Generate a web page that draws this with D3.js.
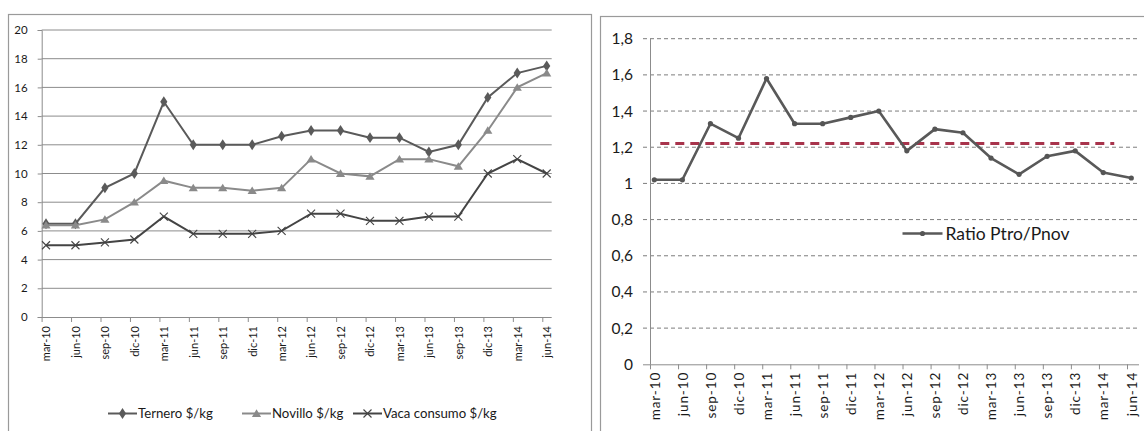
<!DOCTYPE html>
<html>
<head>
<meta charset="utf-8">
<script src="https://cdn.jsdelivr.net/npm/d3@7"></script>
<style>
  html, body { margin: 0; padding: 0; background: #fff; }
  svg { display: block; font-family: Lato, "Open Sans", sans-serif; }
</style>
</head>
<body>
<svg id="chart" width="1144" height="431"></svg>
<script>
// Quarterly periods, March 2010 to June 2014
const periods = ["mar-10","jun-10","sep-10","dic-10","mar-11","jun-11","sep-11","dic-11",
  "mar-12","jun-12","sep-12","dic-12","mar-13","jun-13","sep-13","dic-13","mar-14","jun-14"];

// Prices in $/kg
const ternero = [6.5, 6.5, 9, 10, 15, 12, 12, 12, 12.6, 13, 13, 12.5, 12.5, 11.5, 12, 15.3, 17, 17.5];
const novillo = [6.4, 6.4, 6.8, 8, 9.5, 9, 9, 8.8, 9, 11, 10, 9.8, 11, 11, 10.5, 13, 16, 17];
const vacaConsumo = [5, 5, 5.2, 5.4, 7, 5.8, 5.8, 5.8, 6, 7.2, 7.2, 6.7, 6.7, 7, 7, 10, 11, 10];

// Ratio ternero / novillo and its average level
const ratio = [1.02, 1.02, 1.33, 1.25, 1.58, 1.33, 1.33, 1.365, 1.40, 1.18, 1.30, 1.28, 1.14, 1.05, 1.15, 1.18, 1.06, 1.03];
const ratioAverage = 1.22;

// Axis ticks
const priceTicks = [0, 2, 4, 6, 8, 10, 12, 14, 16, 18, 20];
const ratioTicks = [0, 0.2, 0.4, 0.6, 0.8, 1, 1.2, 1.4, 1.6, 1.8];
const ratioTickLabels = ["0", "0,2", "0,4", "0,6", "0,8", "1", "1,2", "1,4", "1,6", "1,8"];

const svg = d3.select("#chart");

// ---------- Panel frames ----------
svg.append("rect").attr("x", 8.5).attr("y", 14.5).attr("width", 583).attr("height", 440)
  .attr("fill", "#fff").attr("stroke", "#9a9a9a").attr("stroke-width", 1.2);
svg.append("rect").attr("x", 600.5).attr("y", 16.5).attr("width", 560).attr("height", 440)
  .attr("fill", "#fff").attr("stroke", "#9a9a9a").attr("stroke-width", 1.2);

// ---------- Left chart: prices ----------
{
  const axisX = 41.7, plotRight = 551.7;
  const x = d3.scalePoint().domain(periods).range([46, 546.7]);
  const y = d3.scaleLinear().domain([0, 20]).range([317, 30]);
  const g = svg.append("g");
  const tickShift = -4.4;

  // horizontal gridlines
  g.append("g").selectAll("line").data(priceTicks.filter(d => d > 0)).join("line")
    .attr("x1", axisX).attr("x2", plotRight)
    .attr("y1", d => y(d)).attr("y2", d => y(d))
    .attr("stroke", "#8c8c8c").attr("stroke-width", 1);

  // y axis
  const ya = g.append("g").attr("transform", `translate(${axisX},0)`)
    .call(d3.axisLeft(y).tickValues(priceTicks).tickSize(4).tickPadding(10).tickFormat(d3.format("d")));
  ya.attr("font-size", null).attr("font-family", null);
  ya.select(".domain").attr("stroke", "#8c8c8c");
  ya.selectAll(".tick line").attr("stroke", "#8c8c8c");
  ya.selectAll("text").style("font-size", "11.5px").attr("fill", "#1a1a1a");

  // x axis
  const xa = g.append("g").attr("transform", `translate(0,${y(0)})`)
    .call(d3.axisBottom(x).tickSize(5).tickSizeOuter(0));
  xa.attr("font-size", null).attr("font-family", null);
  xa.select(".domain").attr("d", `M${axisX},0.5H${plotRight}`).attr("stroke", "#8c8c8c");
  xa.selectAll(".tick line").attr("x1", tickShift).attr("x2", tickShift).attr("stroke", "#8c8c8c");
  xa.selectAll("text")
    .attr("transform", "rotate(-90)")
    .attr("text-anchor", "end")
    .attr("x", -9).attr("y", 0).attr("dy", "0.35em")
    .style("font-size", "11px").attr("fill", "#1a1a1a");

  const line = d3.line().x((d, i) => x(periods[i])).y(d => y(d));

  const series = [
    { name: "Ternero $/kg", values: ternero, color: "#5a5a5a", marker: "diamond" },
    { name: "Novillo $/kg", values: novillo, color: "#8a8a8a", marker: "triangle" },
    { name: "Vaca consumo $/kg", values: vacaConsumo, color: "#444444", marker: "cross" }
  ];

  function drawMarker(sel, type, color) {
    if (type === "diamond") {
      sel.append("path").attr("d", d3.symbol(d3.symbolDiamond, 34)())
        .attr("transform", "scale(1.15,1)").attr("fill", color);
    } else if (type === "triangle") {
      sel.append("path").attr("d", "M0,-4.2L4.6,3.4L-4.6,3.4Z").attr("fill", color);
    } else {
      sel.append("path").attr("d", "M-4,-4L4,4M-4,4L4,-4").attr("stroke", color)
        .attr("stroke-width", 1.1).attr("fill", "none");
    }
  }

  series.forEach(s => {
    g.append("path").datum(s.values).attr("d", line)
      .attr("fill", "none").attr("stroke", s.color).attr("stroke-width", 2);
    g.append("g").selectAll("g").data(s.values).join("g")
      .attr("transform", (d, i) => `translate(${x(periods[i])},${y(d)})`)
      .each(function () { drawMarker(d3.select(this), s.marker, s.color); });
  });

  // legend
  const legendY = 413.5;
  const legendItems = [
    { s: series[0], x0: 108 },
    { s: series[1], x0: 242 },
    { s: series[2], x0: 353 }
  ];
  legendItems.forEach(it => {
    const lg = g.append("g");
    lg.append("line").attr("x1", it.x0).attr("x2", it.x0 + 29).attr("y1", legendY).attr("y2", legendY)
      .attr("stroke", it.s.color).attr("stroke-width", 2);
    const m = lg.append("g").attr("transform", `translate(${it.x0 + 14.5},${legendY})`);
    drawMarker(m, it.s.marker, it.s.color);
    lg.append("text").attr("x", it.x0 + 30).attr("y", legendY).attr("dy", "0.35em")
      .style("font-size", "13.2px").attr("fill", "#1a1a1a").text(it.s.name);
  });
}

// ---------- Right chart: ratio ----------
{
  const axisX = 650, plotLeft = 643, plotRight = 1139;
  const x = d3.scalePoint().domain(periods).range([654.3, 1131.3]);
  const y = d3.scaleLinear().domain([0, 1.8]).range([364.3, 38.7]);
  const g = svg.append("g");
  const tickShift = -4.3;

  // dashed gridlines
  g.append("g").selectAll("line").data(ratioTicks.filter(d => d > 0)).join("line")
    .attr("x1", plotLeft).attr("x2", plotRight)
    .attr("y1", d => y(d)).attr("y2", d => y(d))
    .attr("stroke", "#7d7d7d").attr("stroke-width", 1).attr("stroke-dasharray", "4,3");

  // y axis
  const ya = g.append("g").attr("transform", `translate(${axisX},0)`)
    .call(d3.axisLeft(y).tickValues(ratioTicks).tickSize(0).tickPadding(17)
      .tickFormat((d, i) => ratioTickLabels[i]));
  ya.attr("font-size", null).attr("font-family", null);
  ya.select(".domain").attr("d", `M0.5,${y(1.8)}V${y(0)}`).attr("stroke", "#8c8c8c");
  ya.selectAll("text").style("font-size", "15.5px").attr("fill", "#1a1a1a");

  // x axis
  const xa = g.append("g").attr("transform", `translate(0,${y(0)})`)
    .call(d3.axisBottom(x).tickSize(5).tickSizeOuter(0));
  xa.attr("font-size", null).attr("font-family", null);
  xa.select(".domain").attr("d", `M${plotLeft},0.5H${plotRight}`).attr("stroke", "#8c8c8c");
  xa.selectAll(".tick line").attr("x1", tickShift).attr("x2", tickShift).attr("stroke", "#8c8c8c");
  xa.selectAll("text")
    .attr("transform", "rotate(-90)")
    .attr("text-anchor", "end")
    .attr("x", -7.5).attr("y", 0).attr("dy", "0.35em")
    .style("font-size", "13.5px").style("letter-spacing", "0.9px")
    .attr("fill", "#1a1a1a");

  // average reference line
  g.append("line")
    .attr("x1", x(periods[0]) + 6).attr("x2", x(periods[periods.length - 2]) + 11)
    .attr("y1", y(ratioAverage)).attr("y2", y(ratioAverage))
    .attr("stroke", "#a8344c").attr("stroke-width", 3).attr("stroke-dasharray", "9,6");

  // ratio series
  const line = d3.line().x((d, i) => x(periods[i])).y(d => y(d));
  g.append("path").datum(ratio).attr("d", line)
    .attr("fill", "none").attr("stroke", "#595959").attr("stroke-width", 2.6).attr("stroke-linejoin", "round");
  g.append("g").selectAll("circle").data(ratio).join("circle")
    .attr("cx", (d, i) => x(periods[i])).attr("cy", d => y(d)).attr("r", 2.6).attr("fill", "#555");

  // legend
  const ly = 233.5, lx = 902.5;
  g.append("line").attr("x1", lx).attr("x2", lx + 40).attr("y1", ly).attr("y2", ly)
    .attr("stroke", "#595959").attr("stroke-width", 2.6);
  g.append("circle").attr("cx", lx + 20).attr("cy", ly).attr("r", 2.6).attr("fill", "#555");
  g.append("text").attr("x", lx + 43).attr("y", ly).attr("dy", "0.35em")
    .style("font-size", "17.5px").attr("fill", "#1a1a1a").text("Ratio Ptro/Pnov");
}
</script>
</body>
</html>
